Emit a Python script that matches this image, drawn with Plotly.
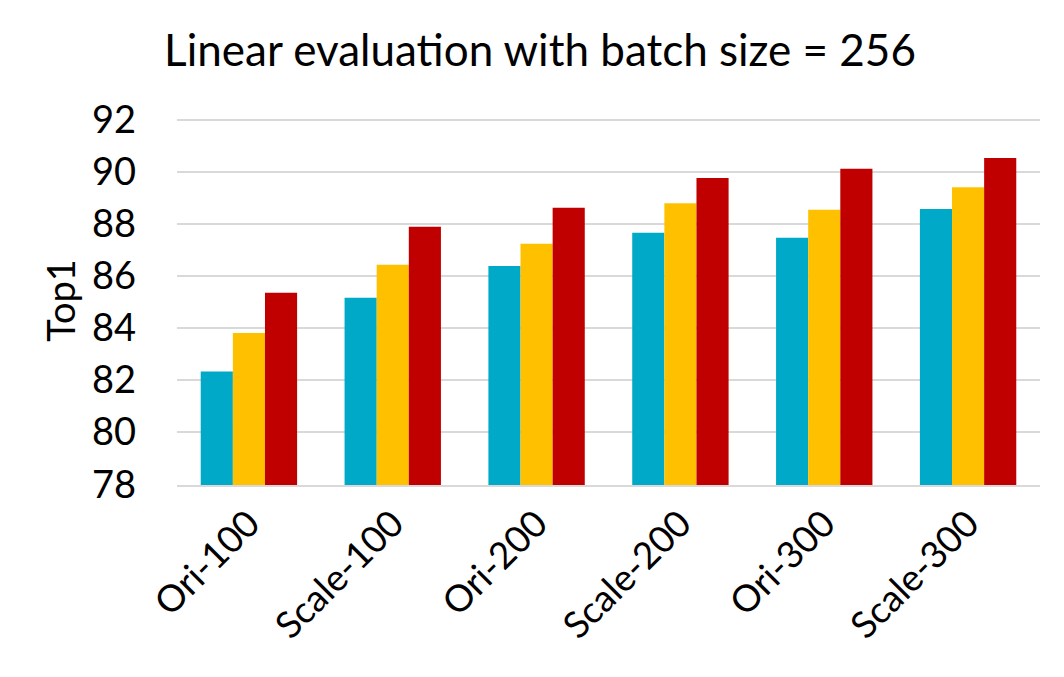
import plotly.graph_objects as go

# Data
categories = ["Ori-100", "Scale-100", "Ori-200", "Scale-200", "Ori-300", "Scale-300"]
series_a = [82.33, 85.17, 86.39, 87.66, 87.47, 88.58]
series_b = [83.81, 86.43, 87.24, 88.80, 88.55, 89.41]
series_c = [85.36, 87.89, 88.62, 89.77, 90.12, 90.54]
y_ticks = [78, 80, 82, 84, 86, 88, 90, 92]

colors = ["#00A9C7", "#FFC000", "#C00000"]
font_family = "Lato, 'Open Sans', sans-serif"

fig = go.Figure()
for vals, col in zip([series_a, series_b, series_c], colors):
    fig.add_trace(go.Bar(
        x=categories,
        y=vals,
        marker=dict(color=col, line=dict(width=0)),
        showlegend=False,
    ))

fig.update_layout(
    width=1064,
    height=677,
    barmode="group",
    bargap=0.33,
    bargroupgap=0,
    plot_bgcolor="white",
    paper_bgcolor="white",
    font=dict(family=font_family, color="black"),
    title=dict(
        text="Linear evaluation with batch size = 256",
        x=0.5, xanchor="center",
        y=0.937, yanchor="middle",
        font=dict(size=44, color="black", family=font_family),
    ),
    margin=dict(l=169, r=32, t=108, b=200, autoexpand=False),
    xaxis=dict(
        tickangle=-45,
        tickfont=dict(size=37),
        showgrid=False,
        showline=True,
        linecolor="#D9D9D9",
        linewidth=2,
        ticks="",
        automargin=False,
    ),
    yaxis=dict(
        range=[77.97, 92.15],
        tickvals=y_ticks,
        tickfont=dict(size=38),
        showgrid=True,
        gridcolor="#D9D9D9",
        gridwidth=2,
        zeroline=False,
        ticks="",
        ticklabelstandoff=40,
        automargin=False,
        title=dict(text="Top1", font=dict(size=38), standoff=4),
    ),
)

fig.write_html("out.html")
